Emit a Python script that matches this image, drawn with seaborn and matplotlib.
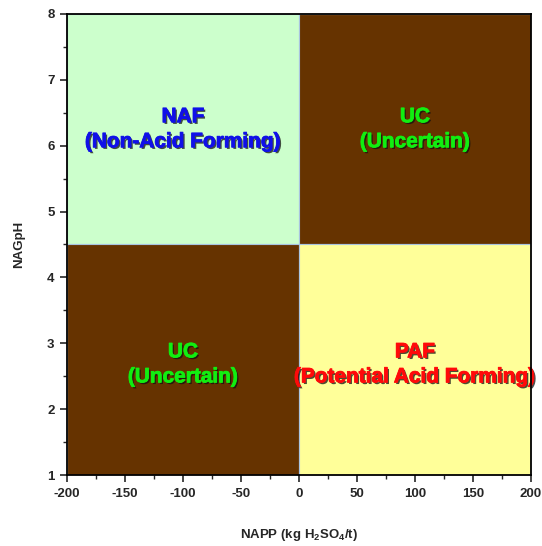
import matplotlib
matplotlib.use("Agg")
import matplotlib.pyplot as plt
import matplotlib.patheffects as pe
from matplotlib.ticker import MultipleLocator
import seaborn as sns

# quadrant data (NAPP range x NAGpH range)
zone_names = ["NAF", "UC", "UC", "PAF"]
zone_desc = ["(Non-Acid Forming)", "(Uncertain)", "(Uncertain)", "(Potential Acid Forming)"]
napp_left = [-200, 0, -200, 0]
napp_width = [200, 200, 200, 200]
ph_bottom = [4.5, 4.5, 1, 1]
ph_height = [3.5, 3.5, 3.5, 3.5]
zone_colors = ["#CCFFCC", "#663300", "#663300", "#FFFF99"]
text_colors = ["#1010E8", "#11EE11", "#11EE11", "#FF0A0A"]
label_x = [-100, 100, -100, 100]
label_y = [6.25, 6.25, 2.68, 2.68]

sns.set_style("ticks")
plt.rcParams["font.family"] = ["Liberation Sans", "DejaVu Sans"]
plt.rcParams["axes.unicode_minus"] = False
plt.rcParams["mathtext.fontset"] = "custom"
plt.rcParams["mathtext.rm"] = "Liberation Sans:bold"
plt.rcParams["mathtext.bf"] = "Liberation Sans:bold"

fig = plt.figure(figsize=(5.42, 5.46), dpi=100)
ax = fig.add_axes([0.1236, 0.130, 0.856, 0.8444])

ax.bar(napp_left, ph_height, width=napp_width, bottom=ph_bottom, align="edge",
       color=zone_colors, edgecolor="#A8C4E0", linewidth=0.8, zorder=1)

for name, desc, x, y, c in zip(zone_names, zone_desc, label_x, label_y, text_colors):
    ax.text(x, y, name + "\n" + desc, ha="center", va="center", color=c,
            fontsize=15, fontweight="bold", linespacing=1.4, zorder=3,
            path_effects=[pe.SimplePatchShadow(offset=(1.2, -1.2), shadow_rgbFace="#111111", alpha=0.75),
                          pe.Stroke(linewidth=0.6, foreground=c), pe.Normal()])

ax.set_xlim(-200, 200)
ax.set_ylim(1, 8)
ax.xaxis.set_major_locator(MultipleLocator(50))
ax.xaxis.set_minor_locator(MultipleLocator(25))
ax.yaxis.set_major_locator(MultipleLocator(1))
ax.yaxis.set_minor_locator(MultipleLocator(0.5))
ax.tick_params(which="major", direction="out", length=5, width=1.2, labelsize=9.5, pad=4)
ax.tick_params(which="minor", direction="out", length=3, width=1.0)
for lab in ax.get_xticklabels() + ax.get_yticklabels():
    lab.set_fontweight("bold")
for s in ax.spines.values():
    s.set_linewidth(1.3)
    s.set_color("black")
    s.set_zorder(4)

ax.set_xlabel(r"NAPP (kg H$_{\bf 2}$SO$_{\bf 4}$/t)", fontsize=9.5, fontweight="bold", labelpad=20)
ax.set_ylabel("NAGpH", fontsize=9.5, fontweight="bold", labelpad=16)

fig.savefig("out.png", dpi=100)
